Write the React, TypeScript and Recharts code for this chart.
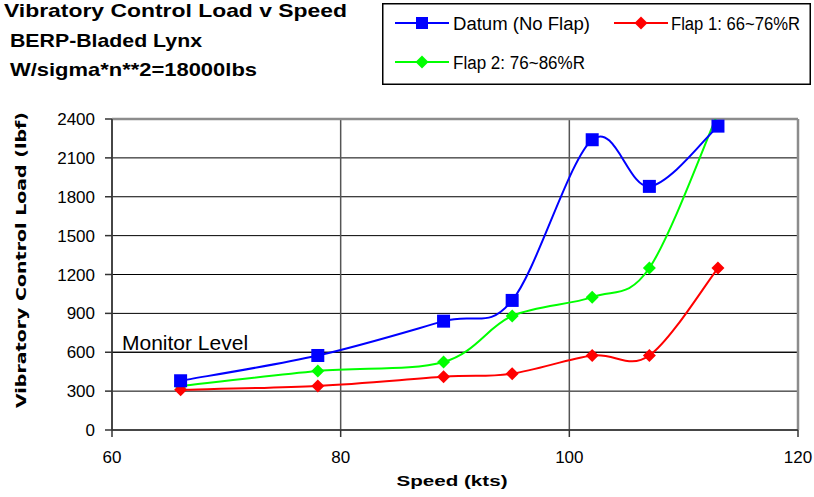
import React from 'react';
import { LineChart, Line, XAxis, YAxis, CartesianGrid, ReferenceLine, Legend } from 'recharts';

// ---- data ----
const speeds = [66, 78, 89, 95, 102, 107, 113];
const datum = [380, 575, 840, 1000, 2240, 1880, 2345];
const flap1 = [310, 340, 410, 435, 575, 575, 1250];
const flap2 = [340, 455, 525, 880, 1025, 1250, 2445];
const xTicks = [60, 80, 100, 120];
const yTicks = [0, 300, 600, 900, 1200, 1500, 1800, 2100, 2400];
const seriesNames = ['Datum (No Flap)', 'Flap 1: 66~76%R', 'Flap 2: 76~86%R'];
const titleLines = ['Vibratory Control Load v Speed', 'BERP-Bladed Lynx', 'W/sigma*n**2=18000lbs'];
const monitorLevel = 600;

const rows = speeds.map((s, i) => ({ speed: s, datum: datum[i], flap1: flap1[i], flap2: flap2[i] }));

const FONT = '"Liberation Sans", Arial, sans-serif';
const BLUE = '#0000FF';
const RED = '#FF0000';
const GREEN = '#00FF00';

// Excel-like smoothed line (Catmull-Rom style Bezier)
function excelSmooth(context: any) {
  let xs: number[] = [];
  let ys: number[] = [];
  return {
    areaStart() {},
    areaEnd() {},
    lineStart() {
      xs = [];
      ys = [];
    },
    point(x: number, y: number) {
      xs.push(+x);
      ys.push(+y);
    },
    lineEnd() {
      const n = xs.length;
      if (n === 0) return;
      context.moveTo(xs[0], ys[0]);
      if (n === 1) return;
      for (let i = 0; i < n - 1; i++) {
        const i0 = Math.max(i - 1, 0);
        const i3 = Math.min(i + 2, n - 1);
        const c1x = xs[i] + (xs[i + 1] - xs[i0]) / 6;
        const c1y = ys[i] + (ys[i + 1] - ys[i0]) / 6;
        const c2x = xs[i + 1] - (xs[i3] - xs[i]) / 6;
        const c2y = ys[i + 1] - (ys[i3] - ys[i]) / 6;
        context.bezierCurveTo(c1x, c1y, c2x, c2y, xs[i + 1], ys[i + 1]);
      }
    },
  };
}

const squareDot = (props: any) => {
  const { cx, cy, index, value } = props;
  if (cx == null || cy == null || value > 2400) return <g key={`sq-${index}`} />;
  return <rect key={`sq-${index}`} x={cx - 6.5} y={cy - 6.5} width={13} height={13} fill={BLUE} />;
};

const makeDiamond = (color: string, prefix: string) => (props: any) => {
  const { cx, cy, index, value } = props;
  if (cx == null || cy == null || value > 2400) return <g key={`${prefix}-${index}`} />;
  const r = 6.5;
  return (
    <polygon
      key={`${prefix}-${index}`}
      points={`${cx},${cy - r} ${cx + r},${cy} ${cx},${cy + r} ${cx - r},${cy}`}
      fill={color}
    />
  );
};

const LegendBox = () => {
  const items = [
    { name: seriesNames[0], color: BLUE, shape: 'square', lx: 13, ly: 20, tx: 71, tl: 137 },
    { name: seriesNames[1], color: RED, shape: 'diamond', lx: 232, ly: 20, tx: 289, tl: 129 },
    { name: seriesNames[2], color: GREEN, shape: 'diamond', lx: 13, ly: 59, tx: 71, tl: 132 },
  ];
  return (
    <svg width={429} height={82} style={{ display: 'block' }}>
      <rect x={0.75} y={0.75} width={427.5} height={80.5} fill="#fff" stroke="#000" strokeWidth={1.5} />
      {items.map((it) => {
        const mx = it.lx + 27;
        return (
          <g key={it.name}>
            <line x1={it.lx} y1={it.ly} x2={it.lx + 54} y2={it.ly} stroke={it.color} strokeWidth={2} />
            {it.shape === 'square' ? (
              <rect x={mx - 6} y={it.ly - 6} width={12} height={12} fill={it.color} />
            ) : (
              <polygon
                points={`${mx},${it.ly - 6.5} ${mx + 6.5},${it.ly} ${mx},${it.ly + 6.5} ${mx - 6.5},${it.ly}`}
                fill={it.color}
              />
            )}
            <text
              x={it.tx}
              y={it.ly + 6.5}
              fontFamily={FONT}
              fontSize={18}
              fill="#000"
              textLength={it.tl}
              lengthAdjust="spacingAndGlyphs"
            >
              {it.name}
            </text>
          </g>
        );
      })}
    </svg>
  );
};

const yLabel = () => (
  <text
    x={26}
    y={260}
    transform="rotate(-90 26 260)"
    textAnchor="middle"
    fontFamily='"DejaVu Sans", sans-serif'
    fontWeight="bold"
    fontSize={13.5}
    fill="#000"
    textLength={296}
    lengthAdjust="spacingAndGlyphs"
  >
    Vibratory Control Load (lbf)
  </text>
);

const xLabel = () => (
  <text
    x={452}
    y={486}
    textAnchor="middle"
    fontFamily={FONT}
    fontWeight="bold"
    fontSize={15}
    fill="#000"
    textLength={111}
    lengthAdjust="spacingAndGlyphs"
  >
    Speed (kts)
  </text>
);

const monitorLabel = (props: any) => {
  const vb = props.viewBox || { x: 112, y: 352 };
  return (
    <text x={vb.x + 10} y={vb.y - 2} fontFamily={FONT} fontSize={21} fill="#000">
      Monitor Level
    </text>
  );
};

export default function App() {
  return (
    <div style={{ position: 'absolute', left: 0, top: 0, width: 814, height: 497, background: '#fff' }}>
      <LineChart width={814} height={497} data={rows} margin={{ top: 119, right: 16, bottom: 7, left: 32 }}>
        <CartesianGrid vertical={false} stroke="#000" strokeWidth={1} />
        <CartesianGrid horizontal={false} stroke="#555" strokeWidth={1.5} />
        <ReferenceLine y={monitorLevel} stroke="#000" strokeWidth={1} label={monitorLabel} />
        <ReferenceLine y={2400} stroke="#8c8c8c" strokeWidth={2.5} />
        <ReferenceLine x={120} stroke="#8c8c8c" strokeWidth={2.5} />
        <XAxis
          type="number"
          dataKey="speed"
          domain={[60, 120]}
          ticks={xTicks}
          allowDataOverflow
          height={60}
          tickSize={7}
          tickMargin={14}
          axisLine={{ stroke: '#333', strokeWidth: 1.5 }}
          tickLine={{ stroke: '#333', strokeWidth: 1.5 }}
          tick={{ fontSize: 17, fill: '#000', fontFamily: FONT }}
          label={xLabel}
        />
        <YAxis
          type="number"
          domain={[0, 2400]}
          ticks={yTicks}
          allowDataOverflow
          width={80}
          tickSize={7}
          tickMargin={10}
          axisLine={{ stroke: '#333', strokeWidth: 1.5 }}
          tickLine={{ stroke: '#333', strokeWidth: 1.5 }}
          tick={{ fontSize: 17, fill: '#000', fontFamily: FONT }}
          label={yLabel}
        />
        <Legend
          layout="vertical"
          align="center"
          verticalAlign="middle"
          wrapperStyle={{ left: 382, top: 3, width: 429, height: 82, margin: 0, padding: 0 }}
          content={() => <LegendBox />}
        />
        <Line
          name={seriesNames[2]}
          dataKey="flap2"
          type={excelSmooth as any}
          stroke={GREEN}
          strokeWidth={2}
          dot={makeDiamond(GREEN, 'g')}
          activeDot={false}
          isAnimationActive={false}
        />
        <Line
          name={seriesNames[1]}
          dataKey="flap1"
          type={excelSmooth as any}
          stroke={RED}
          strokeWidth={2}
          dot={makeDiamond(RED, 'r')}
          activeDot={false}
          isAnimationActive={false}
        />
        <Line
          name={seriesNames[0]}
          dataKey="datum"
          type={excelSmooth as any}
          stroke={BLUE}
          strokeWidth={2}
          dot={squareDot}
          activeDot={false}
          isAnimationActive={false}
        />
      </LineChart>
      <svg width={814} height={90} style={{ position: 'absolute', left: 0, top: 0, pointerEvents: 'none' }}>
        <text x={4} y={17} fontFamily={FONT} fontWeight="bold" fontSize={19} fill="#000" textLength={343} lengthAdjust="spacingAndGlyphs">
          {titleLines[0]}
        </text>
        <text x={10} y={47} fontFamily={FONT} fontWeight="bold" fontSize={19} fill="#000" textLength={192} lengthAdjust="spacingAndGlyphs">
          {titleLines[1]}
        </text>
        <text x={10} y={76} fontFamily={FONT} fontWeight="bold" fontSize={19} fill="#000" textLength={247} lengthAdjust="spacingAndGlyphs">
          {titleLines[2]}
        </text>
      </svg>
    </div>
  );
}
